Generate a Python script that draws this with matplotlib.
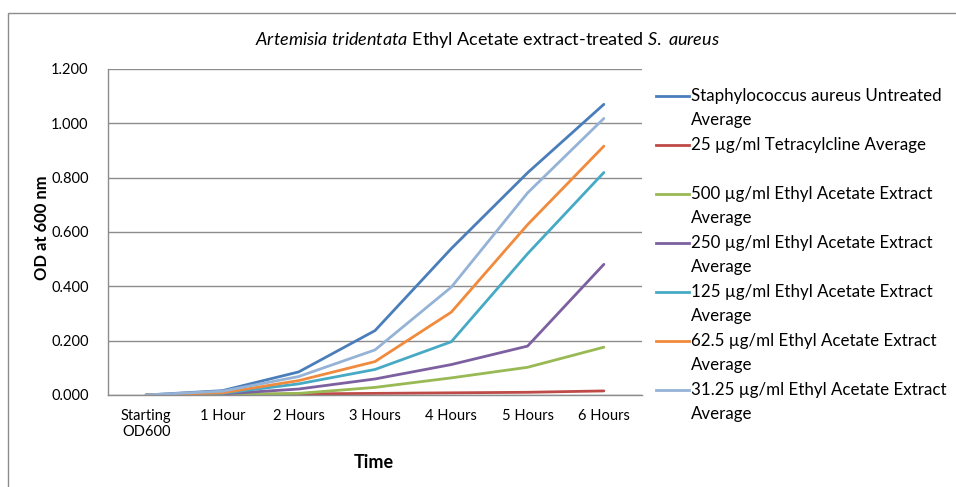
import matplotlib.pyplot as plt
from matplotlib.lines import Line2D
from matplotlib.patches import Rectangle

# ---- DATA ----
time_points = ['Starting\nOD600', '1 Hour', '2 Hours', '3 Hours', '4 Hours', '5 Hours', '6 Hours']

untreated = [0.000, 0.016, 0.085, 0.237, 0.539, 0.818, 1.070]
tetracycline = [0.000, 0.002, 0.004, 0.006, 0.008, 0.010, 0.015]
ea_500 = [0.000, 0.001, 0.006, 0.028, 0.063, 0.102, 0.176]
ea_250 = [0.000, 0.004, 0.022, 0.059, 0.112, 0.180, 0.481]
ea_125 = [0.000, 0.006, 0.041, 0.094, 0.196, 0.520, 0.819]
ea_62_5 = [0.000, 0.008, 0.053, 0.123, 0.305, 0.627, 0.916]
ea_31_25 = [0.000, 0.014, 0.068, 0.166, 0.397, 0.744, 1.018]

series = [untreated, tetracycline, ea_500, ea_250, ea_125, ea_62_5, ea_31_25]
labels = ['Staphylococcus aureus Untreated\nAverage',
          '25 µg/ml Tetracylcline Average\n',
          '500 µg/ml Ethyl Acetate Extract\nAverage',
          '250 µg/ml Ethyl Acetate Extract\nAverage',
          '125 µg/ml Ethyl Acetate Extract\nAverage',
          '62.5 µg/ml Ethyl Acetate Extract\nAverage',
          '31.25 µg/ml Ethyl Acetate Extract\nAverage']
colors = ['#4a7ebb', '#be4b48', '#98b954', '#7d60a0', '#46aac5', '#f08a3c', '#95b3d7']

# ---- STYLE ----
plt.rcParams['font.family'] = ['Lato', 'DejaVu Sans']
plt.rcParams['mathtext.fontset'] = 'custom'
plt.rcParams['mathtext.rm'] = 'Lato'
plt.rcParams['mathtext.it'] = 'Lato:italic'

W, H = 956, 487
fig = plt.figure(figsize=(W / 100, H / 100), dpi=100)
ax = fig.add_axes([108 / W, 1 - 395 / H, (642 - 108) / W, (395 - 69) / H])

# outer chart frame (cropped on the right and bottom)
fig.add_artist(Rectangle((8 / W, -0.1), 1.2, 1.1 - 13 / H, transform=fig.transFigure,
                         fill=False, edgecolor='#8c8c8c', linewidth=1))

x = range(len(time_points))
for vals, color in zip(series, colors):
    ax.plot(x, vals, color=color, linewidth=2.0, solid_capstyle='round')

ax.set_xlim(-0.5, len(time_points) - 0.5)
ax.set_ylim(0, 1.2)
ax.set_yticks([0, 0.2, 0.4, 0.6, 0.8, 1.0, 1.2])
ax.set_yticklabels([f'{v:.3f}' for v in [0, 0.2, 0.4, 0.6, 0.8, 1.0, 1.2]])
ax.set_xticks(list(x))
ax.set_xticklabels(time_points)
ax.tick_params(axis='both', length=0, labelsize=10.5, colors='#000000')
ax.tick_params(axis='y', pad=14)
ax.tick_params(axis='x', pad=10)
ax.grid(True, axis='y', color='#8c8c8c', linewidth=1)
ax.set_axisbelow(True)
for s in ['top', 'right']:
    ax.spines[s].set_visible(False)
for s in ['left', 'bottom']:
    ax.spines[s].set_color('#8c8c8c')
    ax.spines[s].set_linewidth(1)

# titles
fig.text(487 / W, 1 - 40 / H,
         r'$\mathit{Artemisia}$ $\mathit{tridentata}$ Ethyl Acetate extract-treated $\mathit{S.}$ $\mathit{aureus}$',
         ha='center', va='center', fontsize=13)
fig.text(42 / W, 1 - 228 / H, 'OD at 600 nm', rotation=90, ha='center', va='center',
         fontsize=12, fontweight='bold')
fig.text(374 / W, 1 - 462 / H, 'Time', ha='center', va='center', fontsize=13, fontweight='bold')

# legend, Excel style: marker line beside the first text row
for i, (lab, color) in enumerate(zip(labels, colors)):
    y0 = 96 + 49 * i
    fig.add_artist(Line2D([656 / W, 689 / W], [1 - y0 / H, 1 - y0 / H], transform=fig.transFigure,
                          color=color, linewidth=2.0))
    for k, row in enumerate(lab.split('\n')):
        if row:
            fig.text(691 / W, 1 - (y0 + 24 * k) / H, row, ha='left', va='center', fontsize=12.2)

fig.savefig('out.png', dpi=100)
